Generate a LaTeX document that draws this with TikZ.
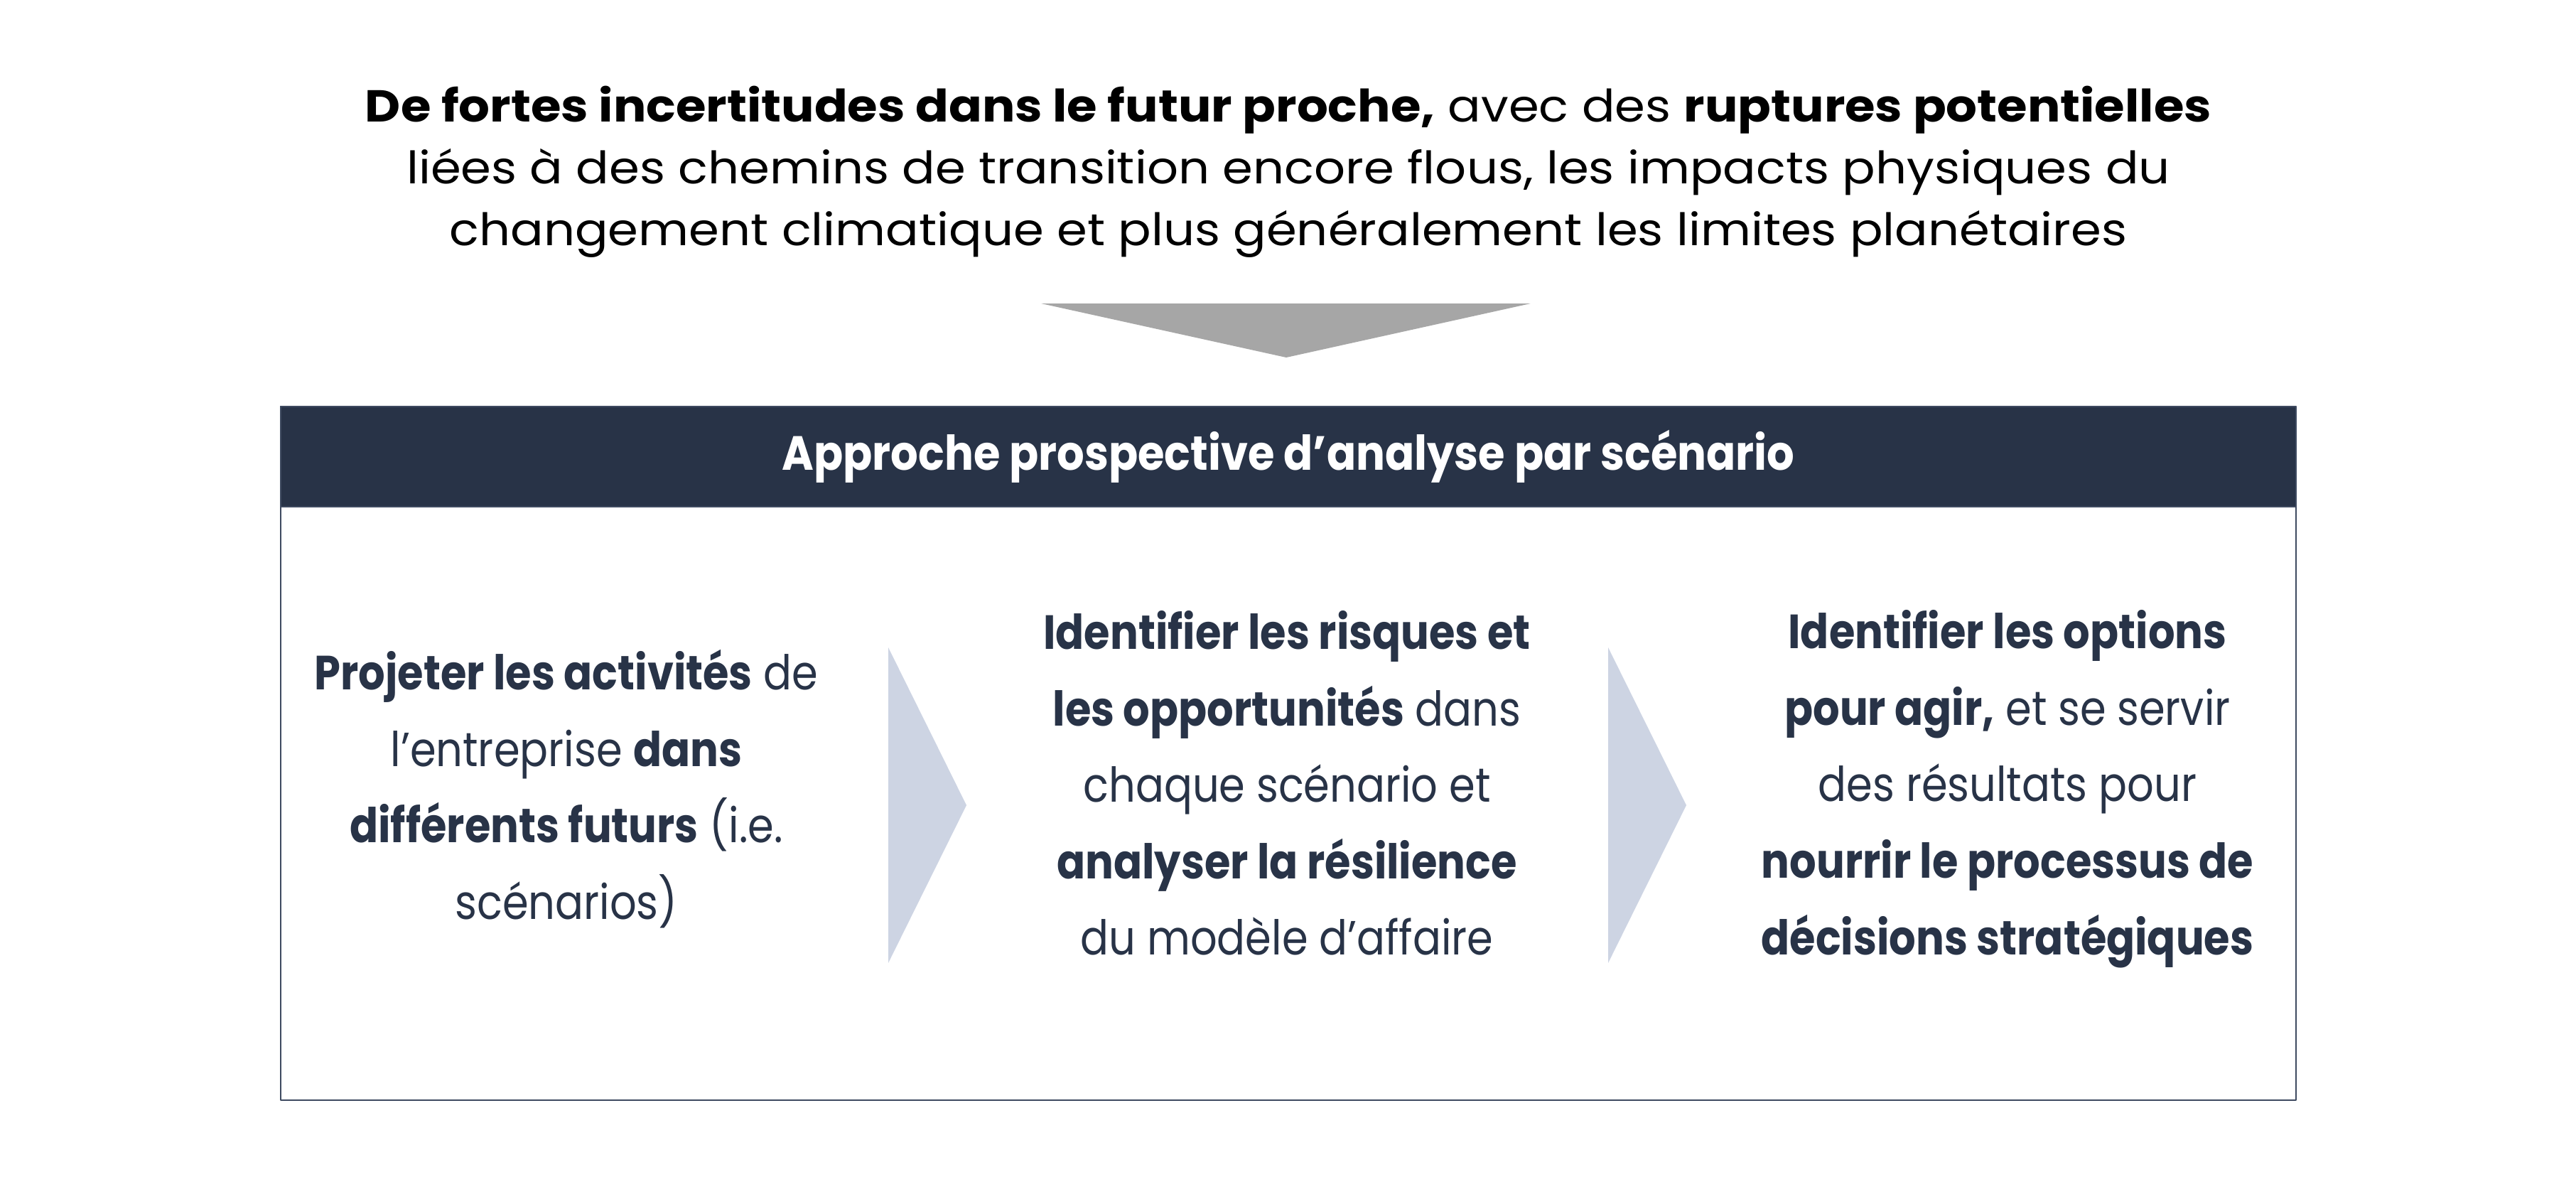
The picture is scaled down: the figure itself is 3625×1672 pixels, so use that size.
\documentclass[tikz,border=0pt]{standalone}
\usepackage{fontspec}
\setmainfont{Poppins}
\newfontfamily\introfont[FakeStretch=1.095]{Poppins}
\newfontfamily\headfont[FakeStretch=0.9]{Poppins}
\newfontfamily\colfont[FakeStretch=0.875]{Poppins}
\usepackage{tikz}
\usetikzlibrary{positioning}

\definecolor{Navy}{HTML}{283347}
\definecolor{FrameLine}{HTML}{3E4A60}
\definecolor{Chevron}{HTML}{CDD4E3}
\definecolor{DropGray}{HTML}{A6A6A6}

\begin{document}
\begin{tikzpicture}[
    x=0.01cm, y=-0.01cm,
    line cap=round,
    line join=round,
    coltext/.style={align=center, text=Navy, font=\colfont\fontsize{19.2}{30.6}\selectfont}
]
\useasboundingbox (0,0) rectangle (3625,1672);

\def\chevw{110}
\def\chevh{222}

\node[align=center, text=black, font=\introfont\fontsize{17.9}{24.8}\selectfont] (intro) at (1813,242)
    {\textbf{De fortes incertitudes dans le futur proche,} avec des \textbf{ruptures potentielles}\\
     liées à des chemins de transition encore flous, les impacts physiques du\\
     changement climatique et plus généralement les limites planétaires};

\fill[DropGray] (1465,427) -- (2154,427) -- (1810,503) -- cycle;

\node[draw=FrameLine, line width=0.6pt, minimum width=28.34cm, minimum height=9.75cm, anchor=north west, inner sep=0pt] (frame) at (394,571) {};
\node[fill=Navy, draw=FrameLine, line width=0.6pt, text=white, minimum width=28.34cm, minimum height=1.41cm, anchor=north, inner sep=0pt,
      font=\headfont\fontsize{19.2}{24}\selectfont\bfseries] (header) at (frame.north) {Approche prospective d’analyse par scénario};

\node[coltext] (project) at (797,1110)
    {\textbf{Projeter les activités} de\\
     l’entreprise \textbf{dans}\\
     \textbf{différents futurs} (i.e.\\
     scénarios)};
\node[coltext] (risks) at (1811,1102)
    {\textbf{Identifier les risques et}\\
     \textbf{les opportunités} dans\\
     chaque scénario et\\
     \textbf{analyser la résilience}\\
     du modèle d’affaire};
\node[coltext] (options) at (2825,1110)
    {\textbf{Identifier les options}\\
     \textbf{pour agir,} et se servir\\
     des résultats pour\\
     \textbf{nourrir le processus de}\\
     \textbf{décisions stratégiques}};

\fill[Chevron] (1250,1133-\chevh) -- (1250+\chevw,1133) -- (1250,1133+\chevh) -- cycle;
\fill[Chevron] (2263,1133-\chevh) -- (2263+\chevw,1133) -- (2263,1133+\chevh) -- cycle;

\end{tikzpicture}
\end{document}
